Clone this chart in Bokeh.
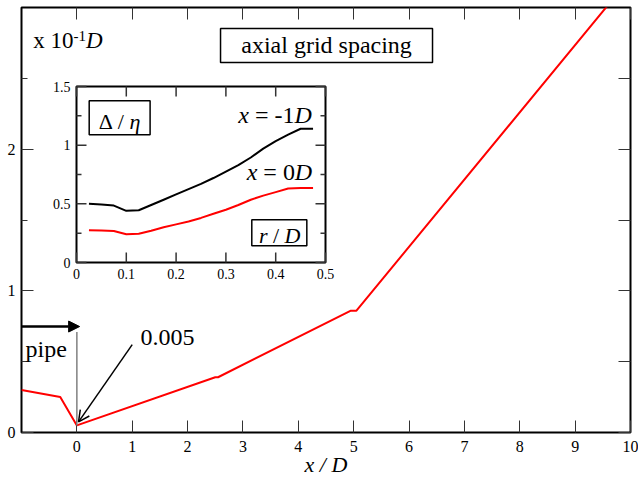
from bokeh.plotting import figure
from bokeh.models import (Range1d, FixedTicker, LinearAxis, Label, BoxAnnotation,
                          Arrow, NormalHead, OpenHead)
from bokeh.embed import file_html
from bokeh.resources import INLINE

# ---------------- data ----------------
# main curve: axial grid spacing (units of 0.1 D) vs x/D
x_main = [-1.0, -0.3, 0.0, 2.5, 2.55, 4.95, 5.05, 9.6]
y_main = [0.30, 0.25, 0.05, 0.39, 0.39, 0.86, 0.86, 3.02]

# inset: Delta/eta vs r/D
r_inset = [0.025, 0.05, 0.075, 0.1, 0.125, 0.15, 0.175, 0.2, 0.225, 0.25,
           0.275, 0.3, 0.325, 0.35, 0.375, 0.4, 0.425, 0.45, 0.475]
delta_xm1 = [0.50, 0.495, 0.485, 0.44, 0.445, 0.49, 0.535, 0.58, 0.625, 0.67,
             0.72, 0.775, 0.83, 0.895, 0.97, 1.035, 1.09, 1.14, 1.14]
delta_x0 = [0.275, 0.272, 0.268, 0.24, 0.245, 0.27, 0.30, 0.325, 0.35, 0.38,
            0.415, 0.45, 0.49, 0.535, 0.57, 0.60, 0.63, 0.635, 0.635]

x_ticks_main = list(range(0, 11))
y_ticks_main = [0, 1, 2]
y_minor_main = [0.5, 1.5, 2.5]
x_ticks_inset = [0.0, 0.1, 0.2, 0.3, 0.4, 0.5]
y_ticks_inset = [0.0, 0.5, 1.0, 1.5]
y_minor_inset = [0.25, 0.75, 1.25]

FONT = "Liberation Serif"
TICK_COLOR = "#333333"
NAN = float("nan")

# main frame geometry (pixels)
FL, FT, FW, FH = 21, 7, 609, 425
MX0, MX1, MY0, MY1 = -1.0, 10.0, 0.0, 3.0
# inset frame geometry (pixels) and ranges
IN_L, IN_R, IN_T, IN_B = 76, 325, 86, 262
IX0, IX1, IY0, IY1 = 0.0, 0.5, 0.0, 1.5


def main_x(px):
    return MX0 + (px - FL) * (MX1 - MX0) / FW


def main_y(py):
    return MY0 + (FT + FH - py) * (MY1 - MY0) / FH


def to_main(ix, iy):
    px = IN_L + (ix - IX0) / (IX1 - IX0) * (IN_R - IN_L)
    py = IN_B - (iy - IY0) / (IY1 - IY0) * (IN_B - IN_T)
    return main_x(px), main_y(py)


def mk_axis(ticks, minor, tick_in, minor_in, labels=True, size="16px", standoff=6):
    ax = LinearAxis(ticker=FixedTicker(ticks=ticks, minor_ticks=minor))
    ax.major_tick_in = tick_in
    ax.major_tick_out = 0
    ax.minor_tick_in = minor_in
    ax.minor_tick_out = 0
    ax.axis_line_color = None
    ax.major_tick_line_color = TICK_COLOR
    ax.minor_tick_line_color = TICK_COLOR
    ax.major_tick_line_width = 1
    ax.minor_tick_line_width = 1
    ax.major_label_text_font = FONT
    ax.major_label_text_color = "black"
    ax.major_label_text_font_size = size
    ax.major_label_standoff = standoff
    if not labels:
        ax.major_label_text_font_size = "0px"
        ax.major_label_text_color = None
        ax.major_label_standoff = 0
    return ax


def lab(fig, x, y, text, size=24, italic=False, align="left", dx=0, dy=0):
    # small upward correction so the alphabetic baseline lands where intended
    fig.add_layout(Label(x=x, y=y, text=text, x_offset=dx, y_offset=dy + 0.35 * size,
                         text_font=FONT, text_font_size=f"{size}px",
                         text_font_style="italic" if italic else "normal",
                         text_align=align, text_baseline="alphabetic",
                         text_color="black"))


def box(fig, left, right, bottom, top):
    fig.add_layout(BoxAnnotation(left=left, right=right, bottom=bottom, top=top,
                                 fill_color="white", fill_alpha=1.0,
                                 line_color="black", line_width=1.5, line_alpha=1.0))


def ibox(fig, l, r, b, t):
    (x0, y0), (x1, y1) = to_main(l, b), to_main(r, t)
    box(fig, x0, x1, y0, y1)


def ilab(fig, ix, iy, text, **kw):
    x, y = to_main(ix, iy)
    lab(fig, x, y, text, **kw)


# ---------------- main figure ----------------
p = figure(width=638, height=480, x_range=Range1d(MX0, MX1), y_range=Range1d(MY0, MY1),
           output_backend="svg", toolbar_location=None,
           x_axis_location=None, y_axis_location=None,
           min_border_left=FL, min_border_right=638 - FL - FW, min_border_top=FT,
           min_border_bottom=480 - FT - FH)
p.grid.visible = False
p.outline_line_color = "black"
p.outline_line_width = 2
p.background_fill_color = "white"
p.border_fill_color = "white"

xax = mk_axis(x_ticks_main, [], 12, 0, labels=True, size="16px", standoff=8)
xax.axis_label = "x / D"
xax.axis_label_text_font = FONT
xax.axis_label_text_font_size = "22px"
xax.axis_label_text_font_style = "italic"
xax.axis_label_text_color = "black"
xax.axis_label_standoff = -3
p.add_layout(xax, "below")
p.add_layout(mk_axis(x_ticks_main, [], 12, 0, labels=False), "above")
p.add_layout(mk_axis(y_ticks_main, y_minor_main, 12, 6, labels=True, size="16px", standoff=6), "left")
p.add_layout(mk_axis(y_ticks_main, y_minor_main, 12, 12, labels=False), "right")

p.line(x_main, y_main, color="red", line_width=2)

# annotations
box(p, 2.595, 6.424, 2.612, 2.852)
lab(p, 4.51, 2.673, "axial grid spacing", size=24, align="center")

lab(p, -1, 2.708, "x 10", size=23, dx=11.7)
lab(p, -1, 2.708, "-1", size=15, dx=52, dy=8)
lab(p, -1, 2.708, "D", size=23, italic=True, dx=64.5)

# pipe arrow and marker line at the pipe exit
p.add_layout(Arrow(end=NormalHead(size=11, fill_color="black", line_color="black"),
                   x_start=-1, y_start=0.748, x_end=0.05, y_end=0.748,
                   line_color="black", line_width=2.5))
p.add_layout(Arrow(end=None, x_start=x_main[2], y_start=y_main[2], x_end=x_main[2], y_end=0.71,
                   line_color="#808080", line_width=1.5))
lab(p, -1, 0.53, "pipe", size=24, dx=4)

p.add_layout(Arrow(end=OpenHead(size=11, line_color="black", line_width=1.5),
                   x_start=1.0, y_start=0.62, x_end=x_main[2] + 0.03, y_end=y_main[2] + 0.025,
                   line_color="black", line_width=1.5))
lab(p, 1.15, 0.614, "0.005", size=24)

# ---------------- inset (sub-coordinate system inside the main plot) ----------------
sub = p.subplot(x_source=Range1d(IX0, IX1), y_source=Range1d(IY0, IY1),
                x_target=Range1d(main_x(IN_L), main_x(IN_R)),
                y_target=Range1d(main_y(IN_B), main_y(IN_T)))

# inset frame
sub.quad(left=[IX0], right=[IX1], bottom=[IY0], top=[IY1],
         fill_color="white", line_color="black", line_width=2)

# inset tick marks (inside the frame, all four sides), one broken polyline
dpx_x = (IX1 - IX0) / (IN_R - IN_L)    # inset data units per pixel
dpx_y = (IY1 - IY0) / (IN_B - IN_T)
MAJ, MIN = 10, 5
tk_x, tk_y = [], []
for t in x_ticks_inset:
    tk_x += [t, t, NAN, t, t, NAN]
    tk_y += [IY0, IY0 + MAJ * dpx_y, NAN, IY1, IY1 - MAJ * dpx_y, NAN]
for ticks, ln in ((y_ticks_inset, MAJ), (y_minor_inset, MIN)):
    for t in ticks:
        tk_x += [IX0, IX0 + ln * dpx_x, NAN, IX1, IX1 - ln * dpx_x, NAN]
        tk_y += [t, t, NAN, t, t, NAN]
sub.line(tk_x, tk_y, line_color=TICK_COLOR, line_width=1.5)

# inset curves
sub.line(r_inset, delta_xm1, color="black", line_width=2)
sub.line(r_inset, delta_x0, color="red", line_width=2)

# inset tick labels
for t in x_ticks_inset:
    ilab(p, t, IY0, f"{t:g}", size=14, align="center", dy=-16)
for t in y_ticks_inset:
    ilab(p, IX0, t, f"{t:g}", size=14, align="right", dx=-6, dy=-5)

# Delta / eta box
ibox(p, 0.0255, 0.1478, 1.088, 1.378)
ilab(p, 0.0449, 1.14, "\u0394", size=22)
ilab(p, 0.0449, 1.14, "/", size=22, dx=19.0)
ilab(p, 0.0449, 1.14, "\u03b7", size=22, italic=True, dx=30.6)

# curve labels
ilab(p, 0.3248, 1.188, "x", size=24, italic=True)
ilab(p, 0.3248, 1.188, "= -1", size=24, dx=16.7)
ilab(p, 0.3248, 1.188, "D", size=24, italic=True, dx=56.2)

ilab(p, 0.3417, 0.696, "x", size=24, italic=True)
ilab(p, 0.3417, 0.696, "= 0", size=24, dx=16.7)
ilab(p, 0.3417, 0.696, "D", size=24, italic=True, dx=48.2)

# r / D box
ibox(p, 0.352, 0.4625, 0.142, 0.364)
ilab(p, 0.3663, 0.168, "r", size=22, italic=True)
ilab(p, 0.3663, 0.168, "/", size=22, dx=14.1)
ilab(p, 0.3663, 0.168, "D", size=22, italic=True, dx=25.7)

open("out.html", "w").write(file_html(p, INLINE))
